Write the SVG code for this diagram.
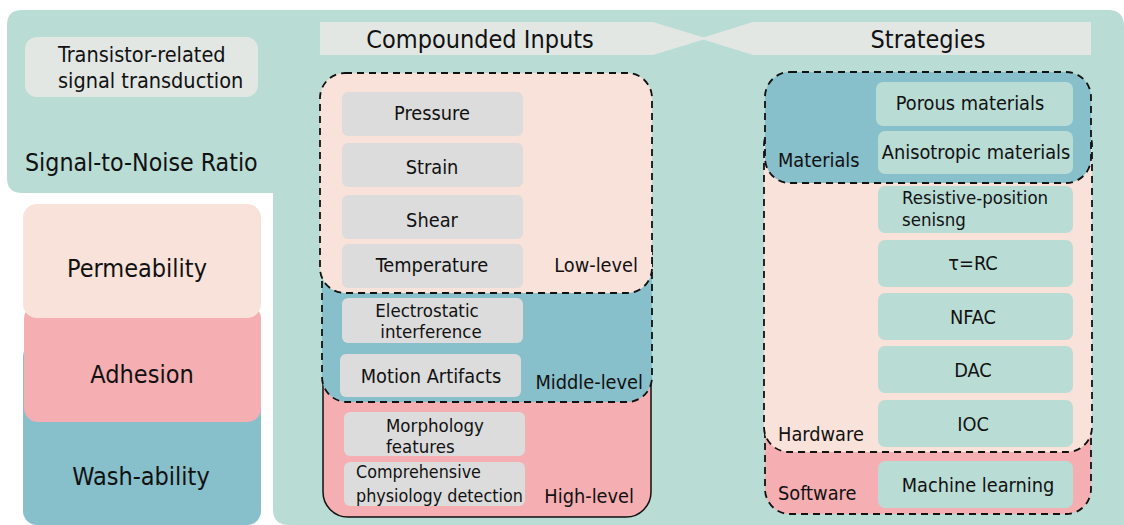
<svg xmlns="http://www.w3.org/2000/svg" width="1124" height="525" viewBox="0 0 1124 525">
<style>
text{font-family:"DejaVu Sans Condensed","DejaVu Sans",sans-serif;fill:#111}
.item{fill:#dcdcdc}
.titem{fill:#b9dcd5}
.peach{fill:#f9e2d9}
.pink{fill:#f5aeb1}
.teal{fill:#87bfcb}
.dash{stroke:#111;stroke-width:1.8;stroke-dasharray:7 5}
.solid{stroke:#111;stroke-width:1.5}
.banner{fill:#e2e7e4}
.c{text-anchor:middle}
.e{text-anchor:end}
.s18{font-size:18.5px}
.s19{font-size:19.8px}
.s24{font-size:25px}
</style>
<rect width="1124" height="525" fill="#ffffff"/>
<path id="background" d="M22 10 H1108 Q1124 10 1124 26 V525 H289 Q273 525 273 509 V193 H22 Q7 193 7 178 V25 Q7 10 22 10 Z" fill="#b9dcd5"/>

<g id="transistor">
<rect x="25" y="37" width="233" height="60" rx="12" fill="#e2e7e4"/>
<text x="58" y="62" style="font-size:21.5px">Transistor-related</text>
<text x="58" y="88" style="font-size:21.5px">signal transduction</text>
</g>
<g id="snr"><text x="25" y="171" style="font-size:24.7px">Signal-to-Noise Ratio</text></g>

<g id="washability"><rect x="23" y="343" width="238" height="182" rx="14" class="teal"/><text x="141" y="485" class="c s24">Wash-ability</text></g>
<g id="adhesion"><rect x="24" y="305" width="237" height="117" rx="14" class="pink"/><text x="142" y="383" class="c s24">Adhesion</text></g>
<g id="permeability"><rect x="23" y="204" width="238" height="114" rx="14" class="peach"/><text x="137" y="277" class="c s24">Permeability</text></g>

<g id="banner-inputs">
<path d="M320 22 H653 L707 38.5 L653 55 H320 Z" class="banner"/>
<text x="480" y="48" class="c s24">Compounded Inputs</text>
</g>
<g id="banner-strategies">
<path d="M1091 22 H753 L700 38.5 L753 55 H1091 Z" class="banner"/>
<text x="928" y="48" class="c s24">Strategies</text>
</g>

<g id="high-level">
<rect x="323" y="300" width="328" height="217" rx="25" class="pink solid"/>
<text x="634" y="503" class="e s19">High-level</text>
</g>
<g id="middle-level">
<rect x="322" y="230" width="330" height="172" rx="25" class="teal dash"/>
<text x="643" y="389" class="e s19">Middle-level</text>
</g>
<g id="low-level">
<rect x="320" y="73" width="332" height="220" rx="25" class="peach dash"/>
<text x="638" y="272" class="e s19">Low-level</text>
</g>

<g id="pressure"><rect x="342" y="92" width="181" height="44" rx="6" class="item"/><text x="432" y="120" class="c s19">Pressure</text></g>
<g id="strain"><rect x="342" y="143" width="181" height="44" rx="6" class="item"/><text x="432" y="174" class="c s19">Strain</text></g>
<g id="shear"><rect x="342" y="195" width="181" height="44" rx="6" class="item"/><text x="432" y="227" class="c s19">Shear</text></g>
<g id="temperature"><rect x="342" y="244" width="181" height="44" rx="6" class="item"/><text x="432" y="272" class="c s19">Temperature</text></g>
<g id="electrostatic"><rect x="342" y="298" width="181" height="45" rx="6" class="item"/><text x="427" y="317" class="c s18">Electrostatic</text><text x="431" y="338" class="c s18">interference</text></g>
<g id="motion"><rect x="340" y="354" width="181" height="43" rx="6" class="item"/><text x="431" y="383" class="c s19">Motion Artifacts</text></g>
<g id="morphology"><rect x="344" y="412" width="181" height="44" rx="6" class="item"/><text x="386" y="432" class="s18">Morphology</text><text x="386" y="453" class="s18">features</text></g>
<g id="comprehensive"><rect x="344" y="462" width="181" height="44" rx="6" class="item"/><text x="356" y="478" style="font-size:17.8px">Comprehensive</text><text x="356" y="502" style="font-size:17.8px">physiology detection</text></g>

<g id="software">
<rect x="765" y="380" width="326" height="134" rx="25" class="pink dash"/>
<text x="778" y="500" class="s19">Software</text>
</g>
<g id="hardware">
<rect x="764" y="120" width="328" height="332" rx="25" class="peach dash"/>
<text x="778" y="441" class="s19">Hardware</text>
</g>
<g id="materials">
<rect x="765" y="72" width="326" height="111" rx="25" class="teal dash"/>
<text x="778" y="167" class="s19">Materials</text>
</g>

<g id="porous"><rect x="876" y="82" width="197" height="44" rx="7" class="titem"/><text x="970" y="110" class="c s19">Porous materials</text></g>
<g id="anisotropic"><rect x="878" y="131" width="195" height="43" rx="7" class="titem"/><text x="976" y="159" class="c s19">Anisotropic materials</text></g>
<g id="resistive"><rect x="878" y="186" width="195" height="47" rx="7" class="titem"/><text x="902" y="204" class="s18">Resistive-position</text><text x="902" y="226" class="s18">senisng</text></g>
<g id="tau"><rect x="878" y="240" width="195" height="47" rx="7" class="titem"/><text x="973" y="270" class="c s19">τ=RC</text></g>
<g id="nfac"><rect x="878" y="293" width="195" height="47" rx="7" class="titem"/><text x="973" y="324" class="c s19">NFAC</text></g>
<g id="dac"><rect x="878" y="346" width="195" height="47" rx="7" class="titem"/><text x="973" y="377" class="c s19">DAC</text></g>
<g id="ioc"><rect x="878" y="400" width="195" height="47" rx="7" class="titem"/><text x="973" y="431" class="c s19">IOC</text></g>
<g id="ml"><rect x="878" y="461" width="195" height="47" rx="7" class="titem"/><text x="978" y="492" class="c s19">Machine learning</text></g>

<g id="connectors"/>
</svg>
